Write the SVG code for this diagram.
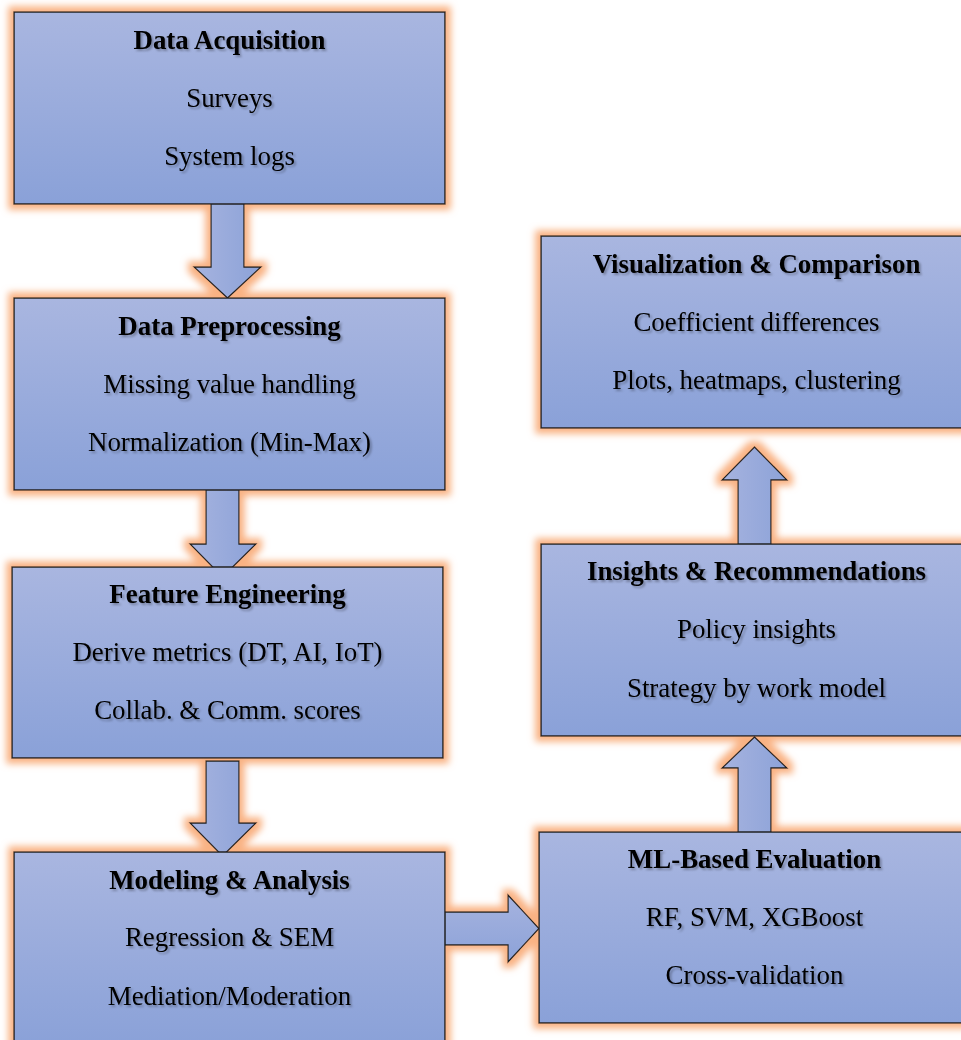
<svg xmlns="http://www.w3.org/2000/svg" width="961" height="1040" viewBox="0 0 961 1040">
<defs>
<linearGradient id="boxFill" x1="0" y1="0" x2="0" y2="1">
<stop offset="0" stop-color="#a9b6e0"/>
<stop offset="1" stop-color="#8aa1d8"/>
</linearGradient>
<linearGradient id="arrowFillV" x1="0" y1="0" x2="1" y2="0">
<stop offset="0" stop-color="#a6b3df"/>
<stop offset="1" stop-color="#8ca2d8"/>
</linearGradient>
<linearGradient id="arrowFillH" x1="0" y1="0" x2="0" y2="1">
<stop offset="0" stop-color="#a6b3df"/>
<stop offset="1" stop-color="#8ca2d8"/>
</linearGradient>
<filter id="glow" filterUnits="userSpaceOnUse" x="-20" y="-20" width="1001" height="1080">
<feMorphology in="SourceAlpha" operator="dilate" radius="5" result="d"/>
<feGaussianBlur in="d" stdDeviation="3.6" result="b"/>
<feFlood flood-color="#f9b283" flood-opacity="1"/>
<feComposite in2="b" operator="in" result="g"/>
<feMerge><feMergeNode in="g"/><feMergeNode in="SourceGraphic"/></feMerge>
</filter>
<filter id="tshadow" x="-10%" y="-30%" width="120%" height="160%">
<feGaussianBlur in="SourceAlpha" stdDeviation="1.3" result="b"/>
<feOffset in="b" dx="1.5" dy="1.5" result="o"/>
<feFlood flood-color="#000" flood-opacity="0.28"/>
<feComposite in2="o" operator="in" result="s"/>
<feMerge><feMergeNode in="s"/><feMergeNode in="SourceGraphic"/></feMerge>
</filter>
</defs>
<style>
.box { fill: url(#boxFill); stroke: #222; stroke-width: 1.5; }
.arr { stroke: #222; stroke-width: 1.3; stroke-linejoin: miter; }
.v { fill: url(#arrowFillV); }
.h { fill: url(#arrowFillH); }
text { font-family: "Liberation Serif", "Times New Roman", serif; font-size: 26.9px; fill: #000; text-anchor: middle; filter: url(#tshadow); }
.t { font-weight: bold; }
</style>
<rect width="961" height="1040" fill="#fff"/>
<g filter="url(#glow)">
<g id="connectors">
<path class="arr v" d="M211,202 H244 V267 H261 L227.5,298 L194,267 H211 Z"/>
<path class="arr v" d="M206,482 H239 V544 H256 L222.5,577 L190,544 H206 Z"/>
<path class="arr v" d="M206,761 H239 V823 H256 L222.5,856 L190,823 H206 Z"/>
<path class="arr h" d="M444,912 H508 V895 L539,928.5 L508,962 V945 H444 Z"/>
<path class="arr v" d="M738,833 V768 H722 L754.5,737 L787,768 H771 V833 Z"/>
<path class="arr v" d="M738,545 V480 H722 L754.5,447 L787,480 H771 V545 Z"/>
</g>
<g id="n1">
<rect class="box" x="14" y="12" width="431" height="192"/>
<text class="t" x="229.5" y="49">Data Acquisition</text>
<text x="229.5" y="107">Surveys</text>
<text x="229.5" y="165">System logs</text>
</g>
<g id="n2">
<rect class="box" x="14" y="298" width="431" height="192"/>
<text class="t" x="229.5" y="335">Data Preprocessing</text>
<text x="229.5" y="393">Missing value handling</text>
<text x="229.5" y="451">Normalization (Min-Max)</text>
</g>
<g id="n3">
<rect class="box" x="12" y="567" width="431" height="191"/>
<text class="t" x="227.5" y="603">Feature Engineering</text>
<text x="227.5" y="661">Derive metrics (DT, AI, IoT)</text>
<text x="227.5" y="719">Collab. &amp; Comm. scores</text>
</g>
<g id="n4">
<rect class="box" x="14" y="852" width="431" height="194"/>
<text class="t" x="229.5" y="889">Modeling &amp; Analysis</text>
<text x="229.5" y="946">Regression &amp; SEM</text>
<text x="229.5" y="1005">Mediation/Moderation</text>
</g>
<g id="n5">
<rect class="box" x="539" y="832" width="431" height="191"/>
<text class="t" x="754.5" y="868">ML-Based Evaluation</text>
<text x="754.5" y="926">RF, SVM, XGBoost</text>
<text x="754.5" y="984">Cross-validation</text>
</g>
<g id="n6">
<rect class="box" x="541" y="544" width="431" height="192"/>
<text class="t" x="756.5" y="580">Insights &amp; Recommendations</text>
<text x="756.5" y="638">Policy insights</text>
<text x="756.5" y="697">Strategy by work model</text>
</g>
<g id="n7">
<rect class="box" x="541" y="236" width="431" height="192"/>
<text class="t" x="756.5" y="273">Visualization &amp; Comparison</text>
<text x="756.5" y="331">Coefficient differences</text>
<text x="756.5" y="389">Plots, heatmaps, clustering</text>
</g>
</g>
</svg>
